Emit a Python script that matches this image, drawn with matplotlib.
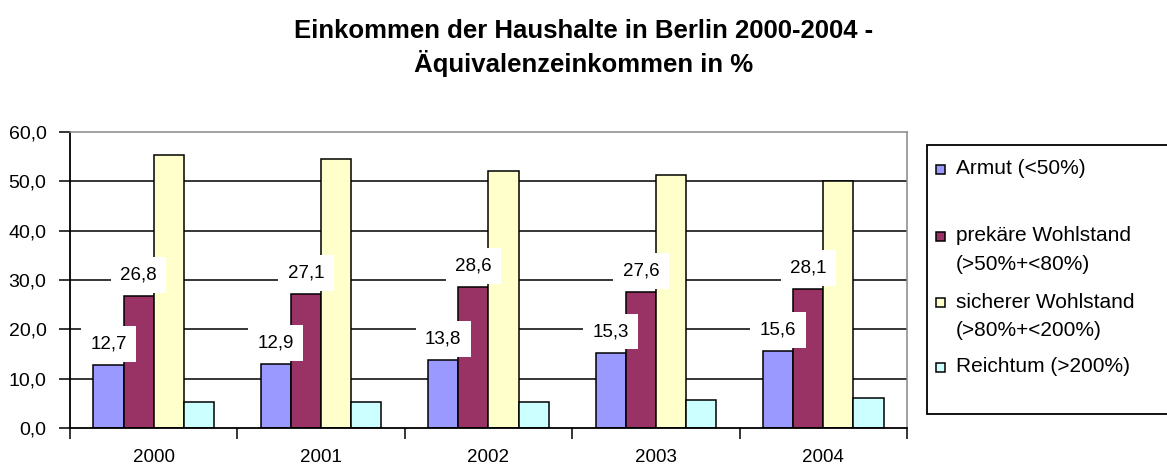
import numpy as np
import matplotlib
matplotlib.use("Agg")
import matplotlib.pyplot as plt
from matplotlib.patches import Rectangle

plt.rcParams["font.family"] = ["Liberation Sans", "DejaVu Sans"]

# data
years = ["2000", "2001", "2002", "2003", "2004"]
armut = [12.7, 12.9, 13.8, 15.3, 15.6]
prekaer = [26.8, 27.1, 28.6, 27.6, 28.1]
sicher = [55.3, 54.5, 52.0, 51.3, 50.0]
reichtum = [5.2, 5.2, 5.3, 5.6, 6.0]
series_names = ["Armut (<50%)",
                "prekäre Wohlstand\n(>50%+<80%)",
                "sicherer Wohlstand\n(>80%+<200%)",
                "Reichtum (>200%)"]
colors = ["#9999FF", "#993366", "#FFFFCC", "#CCFFFF"]
labelled = [True, True, False, False]

W, H = 1167, 470
fig = plt.figure(figsize=(W / 100, H / 100), dpi=100)
ax = fig.add_axes([70 / W, 1 - 428 / H, (907 - 70) / W, (428 - 132) / H])

x = np.arange(len(years))
bw = 0.18
series = [armut, prekaer, sicher, reichtum]
for i, vals in enumerate(series):
    pos = x + (i - 1.5) * bw
    ax.bar(pos, vals, bw, color=colors[i], edgecolor="black", linewidth=1.1, zorder=2)
    if labelled[i]:
        for p, v in zip(pos, vals):
            ax.annotate(f"{v:.1f}".replace(".", ","), (p, v), xytext=(0, 21),
                        textcoords="offset pixels", ha="center", va="center",
                        fontsize=13.5, zorder=4,
                        bbox=dict(boxstyle="square,pad=0.5", fc="white", ec="none"))

ax.set_xlim(-0.5, 4.5)
ax.set_ylim(0, 60)
yt = np.arange(0, 61, 10)
ax.set_yticks(yt, [f"{t:.1f}".replace(".", ",") for t in yt])
ax.hlines(yt[1:-1], -0.5, 4.5, color="black", linewidth=1.1, zorder=1)

ax.set_xticks(np.arange(-0.5, 5, 1), [""] * 6)
ax.set_xticks(x, years, minor=True)
ax.tick_params(axis="x", which="major", direction="out", length=8, width=1.1, color="black")
ax.tick_params(axis="x", which="minor", length=0, pad=15, labelsize=13.5)
ax.tick_params(axis="y", direction="out", length=8, width=1.1, pad=9, labelsize=14)

for s in ["left", "bottom"]:
    ax.spines[s].set_color("black")
    ax.spines[s].set_linewidth(1.3)
for s in ["top", "right"]:
    ax.spines[s].set_color("#888888")
    ax.spines[s].set_linewidth(1.1)

fig.text(0.5, 1 - 48 / H,
         "Einkommen der Haushalte in Berlin 2000-2004 -\nÄquivalenzeinkommen in %",
         ha="center", va="center", fontsize=18.5, fontweight="bold", linespacing=1.3)


# legend box, partly cut off at the right edge like the original
def fx(px):
    return px / W


def fy(py):
    return 1 - py / H


fig.add_artist(Rectangle((fx(927), fy(414)), fx(1180 - 927), (414 - 145) / H,
                         transform=fig.transFigure, fc="white", ec="black", lw=1.3))
rows = [169, 236, 302, 367]
for name, c, yy in zip(series_names, colors, rows):
    fig.add_artist(Rectangle((fx(936), fy(yy + 5)), fx(9), 9 / H,
                             transform=fig.transFigure, fc=c, ec="black", lw=1.1))
    lines = name.split("\n")
    for k, line in enumerate(lines):
        fig.text(fx(956), fy(yy + 29 * k), line, ha="left", va="center", fontsize=15)

fig.savefig("out.png", dpi=100)
